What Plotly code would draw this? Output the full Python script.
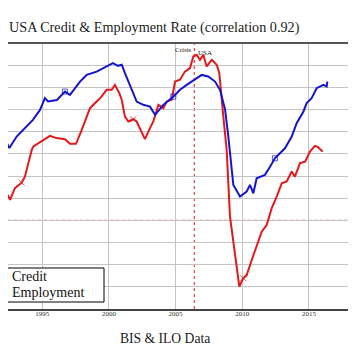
import plotly.graph_objects as go

# ---- data (normalized index units) ----
emp_years = [1991.83, 1992.53, 1993.08, 1993.83, 1994.30, 1994.83, 1995.20, 1995.43, 1996.10, 1996.70,
             1997.08, 1997.83, 1998.33, 1999.08, 2000.30, 2000.68, 2000.96, 2001.20, 2001.71, 2002.08,
             2002.58, 2003.08, 2003.46, 2004.08, 2004.83, 2005.33, 2005.83, 2006.45, 2006.96, 2007.45,
             2007.96, 2008.33, 2008.71, 2008.95, 2009.21, 2009.33, 2009.83, 2010.33, 2010.58, 2010.83,
             2011.08, 2011.70, 2012.08, 2012.45, 2012.83, 2013.20, 2013.71, 2014.08, 2014.58, 2014.83,
             2015.20, 2015.58, 2016.08, 2016.33, 2016.38]
emp_values = [8.08, 7.26, 7.78, 8.23, 8.53, 8.98, 9.51, 9.36, 9.43, 9.81,
              9.66, 10.26, 10.56, 10.71, 11.09, 10.97, 11.02, 10.64, 9.89, 9.36,
              9.21, 9.13, 8.76, 9.21, 9.58, 9.89, 10.11, 10.37, 10.56, 10.49,
              10.26, 9.89, 9.00, 7.80, 6.30, 5.60, 5.07, 5.30, 5.60, 5.22,
              5.90, 6.05, 6.42, 6.80, 7.03, 7.25, 7.78, 8.38, 8.90, 9.29,
              9.51, 9.96, 10.11, 10.04, 10.26]

credit_years = [1991.83, 1992.08, 1992.45, 1992.58, 1992.95, 1993.45, 1993.70, 1993.95, 1994.21, 1994.33,
                1994.96, 1995.58, 1996.08, 1996.70, 1997.08, 1997.53, 1997.96, 1998.58, 1999.08, 1999.33,
                1999.83, 2000.21, 2000.45, 2000.78, 2000.96, 2001.20, 2001.45, 2001.83, 2002.08, 2002.33,
                2002.70, 2003.08, 2003.33, 2003.71, 2004.08, 2004.33, 2004.71, 2004.96, 2005.33, 2005.70,
                2006.08, 2006.33, 2006.58, 2006.83, 2007.08, 2007.33, 2007.71, 2008.08, 2008.28, 2008.58,
                2008.83, 2009.08, 2009.33, 2009.58, 2009.78, 2010.08, 2010.33, 2010.71, 2011.08, 2011.46,
                2011.83, 2012.21, 2012.58, 2012.96, 2013.33, 2013.71, 2013.95, 2014.33, 2014.71, 2015.08,
                2015.45, 2015.68, 2016.03]
credit_values = [5.22, 5.00, 5.10, 4.92, 5.45, 5.70, 5.97, 6.58, 7.18, 7.33,
                 7.56, 7.81, 7.71, 7.66, 7.45, 7.45, 8.08, 9.06, 9.36, 9.50,
                 9.89, 9.89, 10.11, 9.74, 9.44, 8.68, 8.46, 8.56, 8.46, 8.16,
                 7.66, 8.16, 8.46, 9.21, 9.06, 9.36, 9.44, 10.26, 10.34, 10.71,
                 10.87, 11.39, 11.47, 11.24, 11.47, 10.94, 11.24, 11.02, 10.64, 8.68,
                 7.18, 4.17, 3.12, 1.91, 1.01, 1.39, 1.53, 2.21, 2.81, 3.49,
                 3.79, 4.55, 5.07, 5.67, 5.75, 6.20, 5.97, 6.58, 6.65, 7.10,
                 7.36, 7.30, 7.10]

crisis_year = 2006.4
baseline_value = 4
tick_years = [1995, 2000, 2005, 2010, 2015]
tick_labels = ["1995", "2000", "2005", "2010", "2015"]
series_names = ["Credit", "Employment"]

SERIF = "Liberation Serif, Times New Roman, serif"
RED = "#e4191c"
BLUE = "#1515d0"

# the page body has an 8px default margin, so the figure is drawn 8px smaller
W, H = 348, 356
ML, MT, MB = 0, 35, 55
PW, PH = W - ML, H - MT - MB


def marker_sizes(n, idx, size):
    return [size if i in idx else 0 for i in range(n)]


def px_x(px):   # figure pixel -> paper x
    return (px - ML) / PW


def px_y(py):   # figure pixel (from top) -> paper y
    return (H - MB - py) / PH


fig = go.Figure()
fig.add_trace(go.Scatter(
    x=credit_years, y=credit_values, name=series_names[0], mode="lines+markers",
    line=dict(color=RED, width=2),
    marker=dict(symbol="x-thin", size=marker_sizes(len(credit_years), {5, 27, 55}, 6),
                line=dict(color=RED, width=1), color=RED),
))
fig.add_trace(go.Scatter(
    x=emp_years, y=emp_values, name=series_names[1], mode="lines+markers",
    line=dict(color=BLUE, width=2),
    marker=dict(symbol="square-open", size=marker_sizes(len(emp_years), {9, 24, 43}, 5),
                line=dict(color=BLUE, width=1), color=BLUE),
))

# red dotted reference lines
fig.add_hline(y=baseline_value, line=dict(color=RED, width=1, dash="dot"), layer="below")
fig.add_vline(x=crisis_year, line=dict(color=RED, width=1, dash="dot"), layer="below")

# top border
fig.add_shape(type="line", xref="paper", yref="paper", x0=0, x1=1, y0=1, y1=1,
              line=dict(color="#555555", width=2))

fig.add_annotation(x=crisis_year, y=1, xref="x", yref="paper", text="Crisis", showarrow=False,
                   xanchor="right", yanchor="top", xshift=0, yshift=-1,
                   font=dict(family=SERIF, size=7, color="#222"))
fig.add_annotation(x=crisis_year, y=1, xref="x", yref="paper", text="USA", showarrow=False,
                   xanchor="left", yanchor="top", xshift=2, yshift=-4,
                   font=dict(family=SERIF, size=7, color="#222"))

# title
fig.add_annotation(x=0, y=1, xref="paper", yref="paper",
                   text="USA Credit & Employment Rate (correlation 0.92)",
                   showarrow=False, xanchor="left", yanchor="middle", xshift=-1, yshift=16,
                   font=dict(family=SERIF, size=14.2, color="#222"))

# source / axis caption
fig.add_annotation(x=px_x(156.5), y=0, xref="paper", yref="paper", text="BIS & ILO Data",
                   showarrow=False, xanchor="center", yanchor="middle", yshift=-29,
                   font=dict(family=SERIF, size=13.6, color="#222"))

# legend box (its left side runs off the picture)
lg_left, lg_right, lg_top, lg_bottom = -40, 96, 260, 294
fig.add_shape(type="rect", xref="paper", yref="paper",
              x0=px_x(lg_left), x1=px_x(lg_right), y0=px_y(lg_bottom), y1=px_y(lg_top),
              line=dict(color="black", width=1), fillcolor="white", layer="above")
for name, color, row_y in [(series_names[0], RED, 268), (series_names[1], BLUE, 284.7)]:
    fig.add_shape(type="line", xref="paper", yref="paper",
                  x0=px_x(-12), x1=px_x(-4), y0=px_y(row_y), y1=px_y(row_y),
                  line=dict(color=color, width=2), layer="above")
    fig.add_annotation(x=px_x(2), y=px_y(row_y), xref="paper", yref="paper", text=name,
                       showarrow=False, xanchor="left", yanchor="middle",
                       font=dict(family=SERIF, size=14, color="#111"))

fig.update_layout(
    width=W, height=H,
    margin=dict(l=ML, r=0, t=MT, b=MB, autoexpand=False),
    paper_bgcolor="white", plot_bgcolor="white",
    xaxis=dict(range=[1992.43, 2018.53], tickvals=tick_years, ticktext=tick_labels,
               showgrid=True, gridcolor="#c4c4c4", gridwidth=1, zeroline=False,
               showline=True, linecolor="#444444", linewidth=2, ticks="",
               ticklabelstandoff=-3,
               tickfont=dict(family=SERIF, size=7, color="#333")),
    yaxis=dict(range=[0, 12], dtick=1, showticklabels=False, showgrid=True,
               gridcolor="#c4c4c4", gridwidth=1, zeroline=False, showline=False, ticks=""),
    showlegend=False,
)

fig.write_html("out.html")
